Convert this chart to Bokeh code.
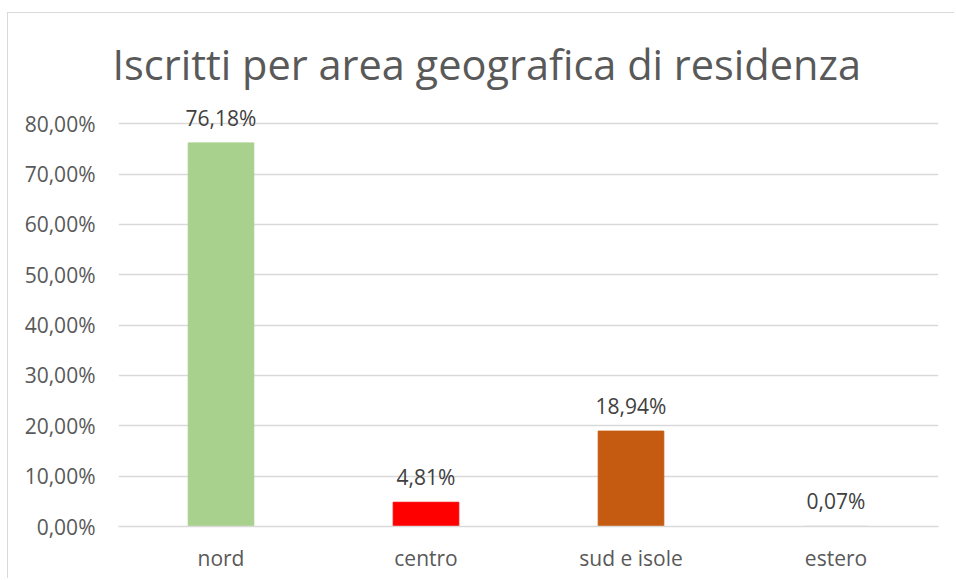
from bokeh.plotting import figure
from bokeh.models import ColumnDataSource, FixedTicker, CustomJSTickFormatter, Range1d
from bokeh.core.properties import value
from bokeh.embed import file_html
from bokeh.resources import INLINE

categories = ["nord", "centro", "sud e isole", "estero"]
percentages = [76.18, 4.81, 18.94, 0.07]
bar_colors = ["#A9D18E", "#FF0000", "#C55A11", "#D9D9D9"]
value_labels = ["76,18%", "4,81%", "18,94%", "0,07%"]
y_ticks = [0, 10, 20, 30, 40, 50, 60, 70, 80]

title_text = "Iscritti per area geografica di residenza"
FONT = "Open Sans"
GREY = "#595959"

src = ColumnDataSource(dict(cat=categories, val=percentages, color=bar_colors, lab=value_labels))

p = figure(x_range=categories, y_range=Range1d(0, 84), width=947, height=566,
           output_backend="svg", toolbar_location=None,
           min_border_left=110, min_border_right=17, min_border_top=90, min_border_bottom=53)

p.title.text = title_text
p.title.text_font = FONT
p.title.text_font_size = "41.5px"
p.title.text_font_style = "normal"
p.title.text_color = GREY
p.title.align = "left"
p.title.offset = -6
p.title.standoff = 24

p.vbar(x="cat", top="val", width=0.32, color="color", source=src)
p.text(x="cat", y="val", text="lab", source=src, text_align="center", text_baseline="alphabetic",
       y_offset=-25, text_font=value(FONT), text_font_size="21px", text_color="#404040")

p.outline_line_color = None
p.xgrid.grid_line_color = None
p.ygrid.grid_line_color = "#D9D9D9"
p.ygrid.grid_line_width = 1.3
p.yaxis.ticker = FixedTicker(ticks=y_ticks)
p.yaxis.formatter = CustomJSTickFormatter(code="return tick.toFixed(2).replace('.', ',') + '%';")
for ax in (p.xaxis, p.yaxis):
    ax.axis_line_color = None
    ax.major_tick_line_color = None
    ax.minor_tick_line_color = None
    ax.major_label_text_font = FONT
    ax.major_label_text_font_size = "21px"
    ax.major_label_text_color = GREY
p.yaxis.major_label_standoff = 17
p.xaxis.major_label_standoff = 11
p.xaxis.axis_line_color = "#D9D9D9"
p.xaxis.axis_line_width = 1.3

p.styles = {"border-top": "1.5px solid #D9D9D9", "border-left": "1.5px solid #D9D9D9",
            "margin-top": "12px", "margin-left": "7px"}

open("out.html", "w").write(file_html(p, INLINE))
